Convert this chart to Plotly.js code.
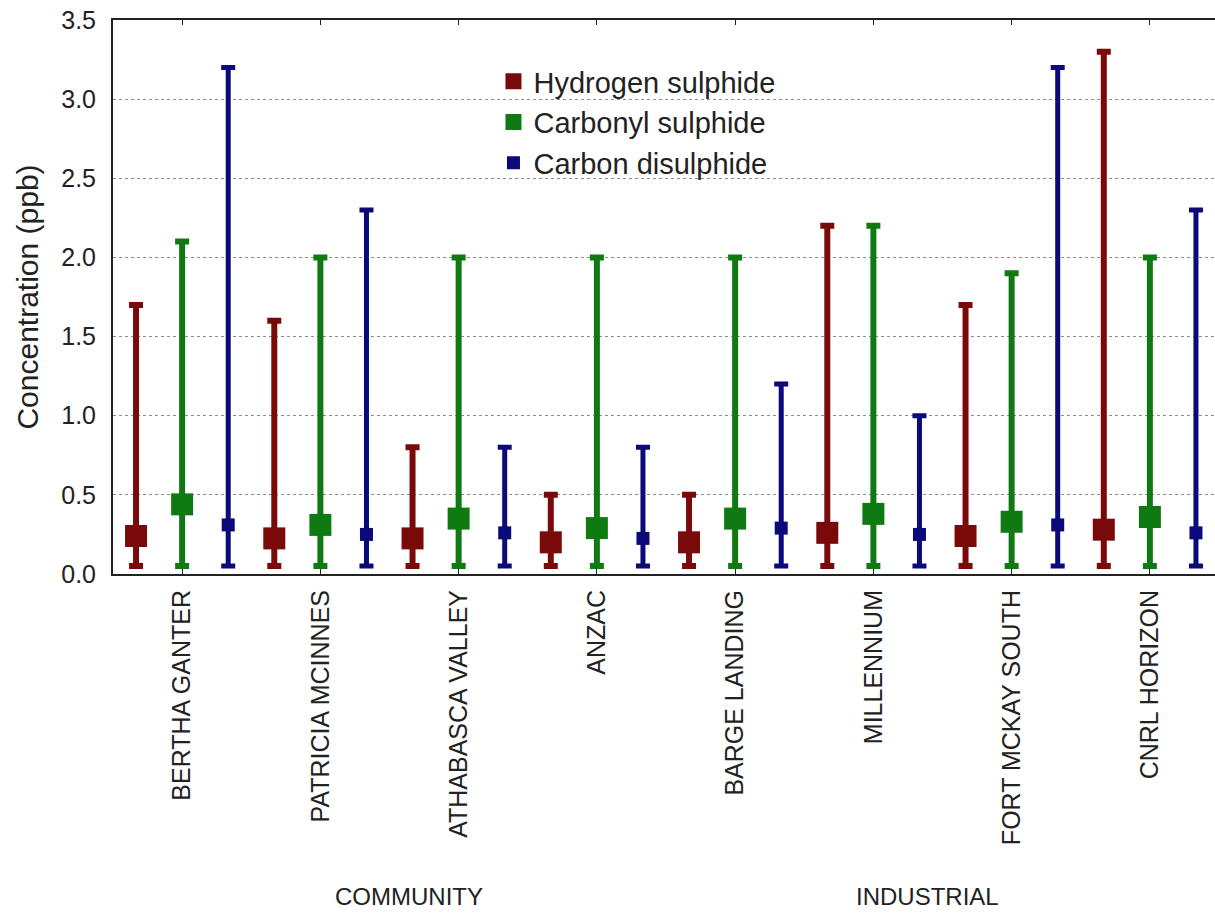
<!DOCTYPE html>
<html>
<head>
<meta charset="utf-8">
<script src="https://cdn.plot.ly/plotly-3.0.1.min.js"></script>
<style>
  html, body { margin: 0; padding: 0; background: #fff; overflow: hidden; }
  #chart { width: 1225px; height: 915px; }
</style>
</head>
<body>
<div id="chart"></div>
<script>
// Monitoring stations, grouped as community and industrial sites
const stations = ["BERTHA GANTER", "PATRICIA MCINNES", "ATHABASCA VALLEY", "ANZAC",
                  "BARGE LANDING", "MILLENNIUM", "FORT MCKAY SOUTH", "CNRL HORIZON"];
const groupLabels = ["COMMUNITY", "INDUSTRIAL"];
const groupLabelPos = [1.64, 5.39];

// Central value and range (min / max) of each compound, ppb
const h2sMid = [0.24, 0.225, 0.225, 0.20, 0.20, 0.26, 0.24, 0.28];
const h2sMax = [1.7, 1.6, 0.8, 0.5, 0.5, 2.2, 1.7, 3.3];
const h2sMin = [0.05, 0.05, 0.05, 0.05, 0.05, 0.05, 0.05, 0.05];

const cosMid = [0.44, 0.31, 0.35, 0.29, 0.35, 0.38, 0.33, 0.36];
const cosMax = [2.1, 2.0, 2.0, 2.0, 2.0, 2.2, 1.9, 2.0];
const cosMin = [0.05, 0.05, 0.05, 0.05, 0.05, 0.05, 0.05, 0.05];

const cs2Mid = [0.31, 0.25, 0.26, 0.225, 0.29, 0.25, 0.31, 0.26];
const cs2Max = [3.2, 2.3, 0.8, 0.8, 1.2, 1.0, 3.2, 2.3];
const cs2Min = [0.05, 0.05, 0.05, 0.05, 0.05, 0.05, 0.05, 0.05];

const yTicks = [0, 0.5, 1.0, 1.5, 2.0, 2.5, 3.0, 3.5];

const idx = stations.map((_, i) => i);

function rangeTrace(name, offset, mid, lo, hi, color, msize, thick) {
  return {
    type: "scatter",
    mode: "markers",
    name: name,
    x: idx.map(i => i + offset),
    y: mid,
    marker: { symbol: "square", size: msize, color: color },
    error_y: {
      type: "data",
      symmetric: false,
      array: hi.map((v, i) => v - mid[i]),
      arrayminus: lo.map((v, i) => mid[i] - v),
      color: color,
      thickness: thick,
      width: 7
    },
    hoverinfo: "x+y"
  };
}

const traces = [
  rangeTrace("Hydrogen sulphide", -1 / 3, h2sMid, h2sMin, h2sMax, "#7a0a0a", 22, 6),
  rangeTrace("Carbonyl sulphide", 0, cosMid, cosMin, cosMax, "#0f7a12", 22, 6),
  rangeTrace("Carbon disulphide", 1 / 3, cs2Mid, cs2Min, cs2Max, "#0a0a7a", 13, 5)
];

const font = "Liberation Sans, Arial, sans-serif";
const ink = "#222222";

const layout = {
  width: 1225,
  height: 915,
  margin: { l: 113, r: 6, t: 20, b: 341 },
  paper_bgcolor: "#ffffff",
  plot_bgcolor: "#ffffff",
  font: { family: font, color: ink },
  showlegend: true,
  legend: {
    x: 0.344, y: 0.935, xanchor: "left", yanchor: "top",
    bgcolor: "rgba(255,255,255,0)",
    font: { size: 29, family: font, color: ink },
    tracegroupgap: 0, itemwidth: 30
  },
  xaxis: {
    range: [-0.5, 7.5],
    tickmode: "array",
    tickvals: idx,
    ticktext: stations,
    tickangle: -90,
    ticks: "inside",
    ticklen: 5,
    tickcolor: ink,
    ticklabelstandoff: 4,
    tickfont: { size: 25, family: font, color: ink },
    showgrid: false,
    zeroline: false,
    showline: true,
    linecolor: ink,
    linewidth: 2,
    mirror: "ticks",
    fixedrange: true
  },
  yaxis: {
    range: [0, 3.5],
    tickmode: "array",
    tickvals: yTicks,
    tickformat: ".1f",
    ticks: "",
    ticklabelstandoff: 10,
    tickfont: { size: 25, family: font, color: ink },
    showgrid: true,
    gridcolor: "#8c8c8c",
    gridwidth: 1,
    griddash: "dot",
    zeroline: false,
    showline: true,
    linecolor: ink,
    linewidth: 2,
    mirror: true,
    title: { text: "Concentration (ppb)", font: { size: 30, family: font, color: ink }, standoff: 14 },
    fixedrange: true
  },
  annotations: groupLabels.map((t, i) => ({
    text: t,
    x: groupLabelPos[i],
    xref: "x",
    // centred about 323 px below the x axis line
    y: -(897 - 574) / (915 - 20 - 341),
    yref: "paper",
    yanchor: "middle",
    showarrow: false,
    font: { size: 24, family: font, color: ink }
  }))
};

Plotly.newPlot("chart", traces, layout, { displayModeBar: false, staticPlot: true });
</script>
</body>
</html>
